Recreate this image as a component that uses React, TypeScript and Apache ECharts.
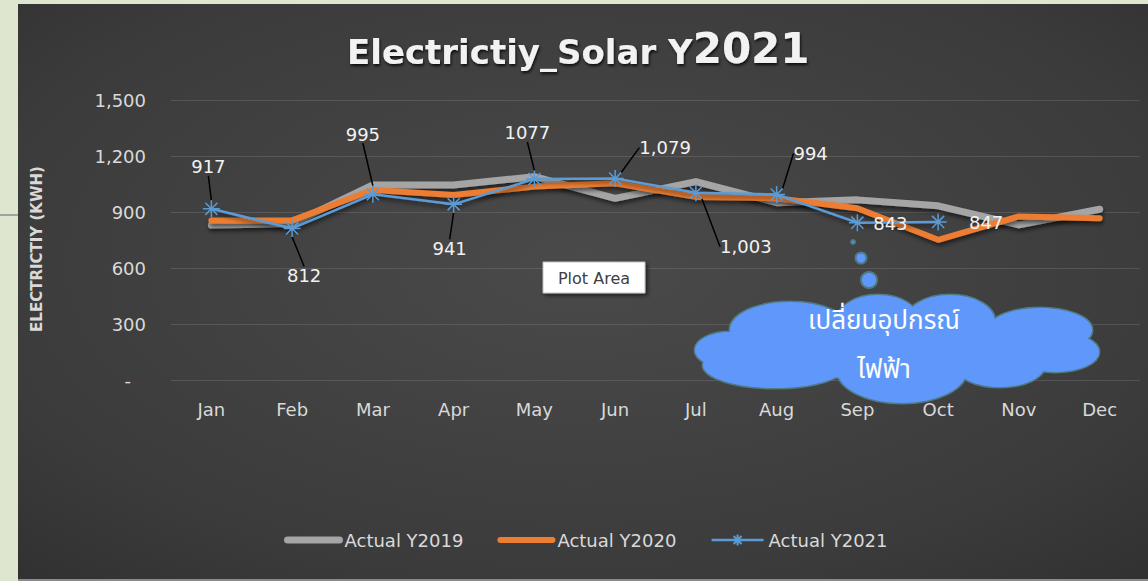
import React, { useEffect, useRef } from 'react';
import * as echarts from 'echarts';

const months = ['Jan', 'Feb', 'Mar', 'Apr', 'May', 'Jun', 'Jul', 'Aug', 'Sep', 'Oct', 'Nov', 'Dec'];
const actual2019 = [830, 838, 1045, 1045, 1089, 973, 1063, 950, 965, 933, 831, 915];
const actual2020 = [855, 855, 1018, 991, 1036, 1054, 981, 974, 920, 751, 876, 867];
const actual2021 = [917, 812, 995, 941, 1077, 1079, 1003, 994, 843, 847];
const labels2021 = ['917', '812', '995', '941', '1077', '1,079', '1,003', '994', '843', '847'];
const seriesNames = ['Actual Y2019', 'Actual Y2020', 'Actual Y2021'];
const yMin = 0;
const yMax = 1500;
const yStep = 300;

// label displacement (pixels) relative to each 2021 point
const labelOffsets = [
  [-3, -42], [12, 47], [-10, -60], [-4, 44], [-7, -46],
  [50, -31], [50, 54], [34, -41], [33, 1], [48, 1],
];
const noLeader = [8, 9];

const FONT = 'DejaVu Sans, Noto Sans, sans-serif';
const STAR = 'path://M10,0 L10,20 M0,10 L20,10 M2.9,2.9 L17.1,17.1 M17.1,2.9 L2.9,17.1';

const cloudEllipses = [
  [790, 330, 60, 28], [878, 322, 42, 27], [950, 322, 45, 27], [1040, 330, 52, 22],
  [1055, 352, 44, 20], [1000, 365, 45, 22], [902, 370, 65, 33], [775, 365, 72, 23],
  [730, 350, 35, 18], [895, 345, 150, 35],
];

export default function App() {
  const ref = useRef<HTMLDivElement>(null);
  useEffect(() => {
    if (!ref.current) return;
    const chart = echarts.init(ref.current, undefined, { renderer: 'svg' });
    const cloudFill = '#5f98fa';
    const cloudStroke = '#4f7b85';
    const graphics: any[] = [
      {
        type: 'rect', z: -100, silent: true,
        shape: { x: 18, y: 4, width: 1130, height: 575 },
        style: {
          fill: new echarts.graphic.RadialGradient(0.5, 0.45, 1, [
            { offset: 0, color: '#4a4a4a' },
            { offset: 0.55, color: '#3b3b3b' },
            { offset: 1, color: '#242424' },
          ]),
        },
      },
      { type: 'rect', z: -99, silent: true, shape: { x: 18, y: 579, width: 1130, height: 2 }, style: { fill: '#8a8a8a' } },
      { type: 'line', z: -99, silent: true, shape: { x1: 0, y1: 215, x2: 18, y2: 215 }, style: { stroke: '#8c8c8c', lineWidth: 1.5 } },
      // Plot Area tooltip
      {
        type: 'rect', z: 100, shape: { x: 543, y: 262, width: 102, height: 31 },
        style: { fill: '#ffffff', stroke: '#bfbfbf', lineWidth: 1, shadowColor: 'rgba(0,0,0,0.6)', shadowBlur: 4, shadowOffsetX: 2, shadowOffsetY: 2 },
      },
      {
        type: 'text', z: 101, x: 594, y: 278,
        style: { text: 'Plot Area', fill: '#404040', font: `16px ${FONT}`, textAlign: 'center', textVerticalAlign: 'middle' },
      },
    ];
    cloudEllipses.forEach(([cx, cy, rx, ry]) => {
      graphics.push({ type: 'ellipse', z: 100, shape: { cx, cy, rx, ry }, style: { fill: cloudFill, stroke: cloudStroke, lineWidth: 3 } });
    });
    cloudEllipses.forEach(([cx, cy, rx, ry]) => {
      graphics.push({ type: 'ellipse', z: 101, shape: { cx, cy, rx, ry }, style: { fill: cloudFill } });
    });
    [[853, 242, 2], [861, 258, 5.5], [869, 280, 8]].forEach(([cx, cy, r]) => {
      graphics.push({ type: 'circle', z: 101, shape: { cx, cy, r }, style: { fill: cloudFill, stroke: cloudStroke, lineWidth: 2 } });
    });
    graphics.push({
      type: 'text', z: 102, x: 884, y: 321,
      style: { text: 'เปลี่ยนอุปกรณ์', fill: '#ffffff', font: `26px Noto Sans Thai, ${FONT}`, textAlign: 'center', textVerticalAlign: 'middle' },
    });
    graphics.push({
      type: 'text', z: 102, x: 884, y: 370,
      style: { text: 'ไฟฟ้า', fill: '#ffffff', font: `26px Noto Sans Thai, ${FONT}`, textAlign: 'center', textVerticalAlign: 'middle' },
    });

    const shadow = { shadowColor: 'rgba(0,0,0,0.55)', shadowBlur: 4, shadowOffsetX: 1, shadowOffsetY: 3 };
    const titleRich = (size: number) => ({
      fontFamily: FONT, fontWeight: 'bold', fontSize: size, color: '#f2f2f2',
      textShadowColor: 'rgba(0,0,0,0.8)', textShadowBlur: 3, textShadowOffsetX: 1, textShadowOffsetY: 2,
      verticalAlign: 'bottom',
    });

    chart.setOption({
      animation: false,
      backgroundColor: '#dfe6cf',
      title: {
        text: '{a|Electrictiy_Solar Y}{b|2021}',
        left: 342,
        top: 22,
        textStyle: { rich: { a: titleRich(34), b: titleRich(42) } },
      },
      grid: { left: 171, right: 8, top: 100, bottom: 201, containLabel: false },
      legend: {
        left: 279,
        top: 526,
        itemWidth: 52,
        itemHeight: 14,
        itemGap: 34,
        data: [
          { name: seriesNames[0], itemStyle: { color: 'transparent', borderWidth: 0 }, lineStyle: { width: 7, cap: 'round' } },
          { name: seriesNames[1], itemStyle: { color: 'transparent', borderWidth: 0 }, lineStyle: { width: 6, cap: 'round' } },
          { name: seriesNames[2], lineStyle: { width: 2.5 } },
        ],
        textStyle: { color: '#d9d9d9', fontSize: 18, fontFamily: FONT },
      },
      xAxis: {
        type: 'category',
        data: months,
        boundaryGap: true,
        axisLine: { show: false },
        axisTick: { show: false },
        axisLabel: { color: '#d9d9d9', fontSize: 18, fontFamily: FONT, margin: 20 },
      },
      yAxis: {
        type: 'value',
        min: yMin,
        max: yMax,
        interval: yStep,
        name: 'ELECTRICTIY (KWH)',
        nameLocation: 'middle',
        nameRotate: 90,
        nameGap: 127,
        nameTextStyle: { color: '#d9d9d9', fontSize: 15, fontWeight: 'bold', fontFamily: FONT, padding: [0, 18, 0, 0] },
        axisLine: { show: false },
        axisTick: { show: false },
        splitLine: { lineStyle: { color: 'rgba(255,255,255,0.12)', width: 1 } },
        axisLabel: {
          color: '#d9d9d9', fontSize: 18, fontFamily: FONT, margin: 25,
          formatter: (v: number) => (v === 0 ? '{z|-}' : v.toLocaleString('en-US')),
          rich: { z: { color: '#d9d9d9', fontSize: 18, fontFamily: FONT, padding: [0, 15, 0, 0] } },
        },
      },
      series: [
        {
          name: seriesNames[0], type: 'line', data: actual2019, showSymbol: false, symbol: 'none',
          lineStyle: { color: '#a5a5a5', width: 7, cap: 'round', join: 'round', ...shadow },
          itemStyle: { color: '#a5a5a5' }, z: 2,
        },
        {
          name: seriesNames[1], type: 'line', data: actual2020, showSymbol: false, symbol: 'none',
          lineStyle: { color: '#ed7d31', width: 6, cap: 'round', join: 'round', ...shadow },
          itemStyle: { color: '#ed7d31' }, z: 3,
        },
        {
          name: seriesNames[2], type: 'line', symbol: STAR, symbolSize: 17,
          data: actual2021.map((v, i) => ({
            value: v,
            labelLine: { show: !noLeader.includes(i) },
          })),
          lineStyle: { color: '#5b9bd5', width: 2.5, join: 'round', ...shadow },
          itemStyle: { color: '#5b9bd5', borderColor: '#5b9bd5', borderWidth: 1.5 },
          z: 4,
          label: {
            show: true,
            position: 'inside',
            color: '#f2f2f2',
            fontSize: 18,
            fontFamily: FONT,
            formatter: (p: any) => labels2021[p.dataIndex],
          },
          labelLayout: (p: any) => ({ dx: labelOffsets[p.dataIndex][0], dy: labelOffsets[p.dataIndex][1] }),
          labelLine: { show: true, lineStyle: { color: '#000000', width: 1.5 } },
        },
      ],
      graphic: graphics,
    });
    return () => chart.dispose();
  }, []);
  return <div ref={ref} style={{ position: 'absolute', left: 0, top: 0, width: 1148, height: 581 }} />;
}
